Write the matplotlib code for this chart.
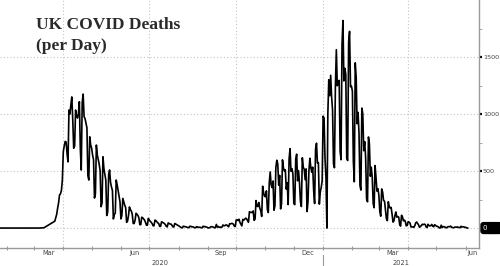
import numpy as np
import pandas as pd
import matplotlib
matplotlib.use("Agg")
import matplotlib.pyplot as plt
from matplotlib.transforms import blended_transform_factory

# daily UK COVID deaths, one list per month
jan20 = [0, 0, 0, 0, 0, 0, 0]  # from Jan 25
feb20 = [0, 0, 0, 0, 0, 0, 0, 0, 0, 0, 0, 0, 0, 0, 0, 0, 0, 0, 0, 0,
         0, 0, 0, 0, 0, 0, 0, 0, 0]
mar20 = [0, 0, 0, 0, 0, 0, 0, 1, 1, 2, 2, 5, 10, 15, 20, 25, 30, 35, 40, 45,
         50, 55, 60, 90, 120, 175, 220, 290, 300, 330, 420]
apr20 = [670, 720, 760, 755, 650, 580, 1035, 1000, 1080, 1150, 950, 700, 720,
         1035, 990, 965, 1000, 1108, 700, 509, 1100, 1175, 976, 960, 921, 880,
         460, 421, 800, 728]
may20 = [700, 640, 600, 263, 300, 728, 640, 600, 560, 500, 187, 220, 625, 520,
         470, 420, 110, 140, 470, 509, 400, 360, 330, 80, 120, 130, 421, 380,
         330, 280, 230]
jun20 = [80, 110, 260, 230, 200, 180, 50, 60, 110, 185, 160, 150, 120, 40, 40,
         70, 130, 120, 110, 90, 30, 30, 95, 90, 80, 70, 50, 25, 25, 85]
jul20 = [70, 60, 50, 40, 20, 20, 70, 65, 55, 45, 40, 15, 15, 55, 50, 45, 40,
         30, 15, 10, 45, 40, 35, 35, 25, 10, 10, 40, 35, 30, 25]
aug20 = [20, 15, 8, 5, 1, 16, 14, 12, 10, 6, 5, 3, 16, 15, 10, 11, 7, 3, 2, 12,
         10, 6, 7, 5, 2, 2, 16, 12, 13, 9, 8]
sep20 = [2, 1, 3, 10, 12, 10, 8, 2, 3, 32, 8, 14, 6, 9, 5, 9, 27, 20, 21, 27,
         27, 18, 11, 37, 37, 40, 40, 34, 17, 13]
oct20 = [71, 71, 66, 77, 49, 33, 19, 76, 70, 77, 87, 81, 65, 50, 143, 137, 138,
         136, 150, 67, 80, 241, 191, 189, 224, 174, 151, 102, 367, 310, 280]
nov20 = [274, 326, 162, 136, 397, 492, 378, 355, 413, 156, 194, 532, 595, 563,
         376, 462, 168, 213, 598, 529, 501, 511, 341, 398, 206, 608, 696, 498,
         521, 479]
dec20 = [215, 205, 603, 648, 414, 504, 397, 231, 189, 616, 533, 516, 424, 519,
         144, 232, 506, 612, 532, 489, 534, 326, 215, 691, 744, 570, 574, 210,
         316, 357, 414]
jan21 = [981, 964, 613, 445, 0, 1000, 1300, 1160, 1340, 1150, 1035, 563, 529,
         1243, 1564, 1248, 1280, 1295, 671, 599, 1610, 1820, 1290, 1401, 1348,
         610, 592, 1631, 1725, 1239, 1245]
feb21 = [1200, 587, 406, 1449, 1322, 915, 1014, 828, 373, 333, 1052, 1001, 678,
         758, 621, 258, 230, 799, 738, 454, 533, 445, 215, 178, 548, 442, 323,
         345]
mar21 = [290, 144, 104, 343, 315, 242, 236, 158, 82, 65, 231, 190, 175, 181,
         121, 52, 64, 110, 141, 95, 101, 96, 33, 17, 112, 98, 63, 70, 58, 19, 23]
apr21 = [56, 52, 43, 10, 10, 10, 6, 20, 45, 53, 40, 28, 7, 13, 23, 33, 30, 34,
         32, 10, 4, 33, 22, 18, 21, 32, 17, 11, 29, 24]
may21 = [15, 15, 10, 1, 1, 25, 4, 13, 11, 9, 2, 4, 11, 13, 11, 17, 7, 4, 2, 7,
         9, 7, 10, 6, 5, 4, 15, 10, 11, 10, 7]
jun21 = [6, 1, 0]

months = [("2020-01-25", jan20), ("2020-02-01", feb20), ("2020-03-01", mar20),
          ("2020-04-01", apr20), ("2020-05-01", may20), ("2020-06-01", jun20),
          ("2020-07-01", jul20), ("2020-08-01", aug20), ("2020-09-01", sep20),
          ("2020-10-01", oct20), ("2020-11-01", nov20), ("2020-12-01", dec20),
          ("2021-01-01", jan21), ("2021-02-01", feb21), ("2021-03-01", mar21),
          ("2021-04-01", apr21), ("2021-05-01", may21), ("2021-06-01", jun21)]

dates = pd.DatetimeIndex(np.concatenate(
    [pd.date_range(s, periods=len(v)).values for s, v in months]))
deaths = np.concatenate([np.array(v, dtype=float) for s, v in months])

month_labels = ["Mar", "Jun", "Sep", "Dec", "Mar", "Jun"]
month_label_pos = pd.to_datetime(["2020-03-16", "2020-06-15", "2020-09-15",
                                  "2020-12-16", "2021-03-16", "2021-06-08"])
year_labels = ["2020", "2021"]
year_label_pos = pd.to_datetime(["2020-07-12", "2021-03-24"])
vgrid = pd.to_datetime(["2020-04-01", "2020-07-01", "2020-10-01",
                        "2021-01-01", "2021-04-01"])
hgrid = [0, 500, 1000, 1500]

GRID = "#c4c4c4"
AXC = "#9a9a9a"
TXT = "#444444"

fig = plt.figure(figsize=(5, 2.66), dpi=100)
ax = fig.add_axes([0, 18 / 266, 479 / 500, 248 / 266])

for y in hgrid:
    ax.axhline(y, color=GRID, lw=0.8, ls=(0, (1, 2)), zorder=1)
for d in vgrid:
    ax.axvline(d, color=GRID, lw=0.8, ls=(0, (1, 2)), zorder=1)

ax.plot(dates, deaths, color="black", lw=1.2, zorder=3)

ax.set_xlim(pd.Timestamp("2020-01-25"), pd.Timestamp("2021-06-15"))
ax.set_ylim(-175, 2000)

for s in ["top", "left"]:
    ax.spines[s].set_visible(False)
for s in ["right", "bottom"]:
    ax.spines[s].set_color(AXC)
    ax.spines[s].set_linewidth(1.0)

# x axis: month ticks at month starts, labels mid-month
ax.set_xticks(month_label_pos)
ax.set_xticklabels(month_labels, fontsize=4.8, color=TXT)
ax.tick_params(axis="x", which="major", length=0, pad=1.5)
ax.set_xticks(pd.date_range("2020-02-01", "2021-06-01", freq="MS"), minor=True)
ax.tick_params(axis="x", which="minor", length=2.5, direction="inout",
               color=AXC, width=0.8)

trans = blended_transform_factory(ax.transData, ax.transAxes)
for lab, pos in zip(year_labels, year_label_pos):
    ax.text(pos, -0.062, lab, transform=trans, fontsize=4.8, color=TXT,
            ha="center", va="center")
ax.plot([pd.Timestamp("2021-01-01")] * 2, [-0.028, -0.08], transform=trans,
        color=AXC, lw=0.8, clip_on=False)

# y axis on the right
ax.yaxis.tick_right()
ax.set_yticks([500, 1000, 1500])
ax.set_yticklabels(["500", "1000", "1500"], fontsize=4.6, color=TXT)
ax.tick_params(axis="y", which="major", length=2, width=1.6, color="black",
               pad=0.8)
ax.set_yticks([250, 750, 1250, 1750], minor=True)
ax.tick_params(axis="y", which="minor", length=2, width=0.6, color=AXC)

# last value badge
ax.annotate("0     ", xy=(1.0, 0), xycoords=("axes fraction", "data"),
            xytext=(3.2, 0), textcoords="offset points", fontsize=5,
            color="white", ha="left", va="center",
            bbox=dict(boxstyle="round,pad=0.35", fc="black", ec="black"),
            annotation_clip=False)

fig.text(36 / 500, 1 - 29 / 266, "UK COVID Deaths", family="Liberation Serif",
         fontsize=12.5, fontweight="bold", color="#2a2a2a", va="baseline")
fig.text(36 / 500, 1 - 50 / 266, "(per Day)", family="Liberation Serif",
         fontsize=12.5, fontweight="bold", color="#2a2a2a", va="baseline")

fig.savefig("out.png", dpi=100)
